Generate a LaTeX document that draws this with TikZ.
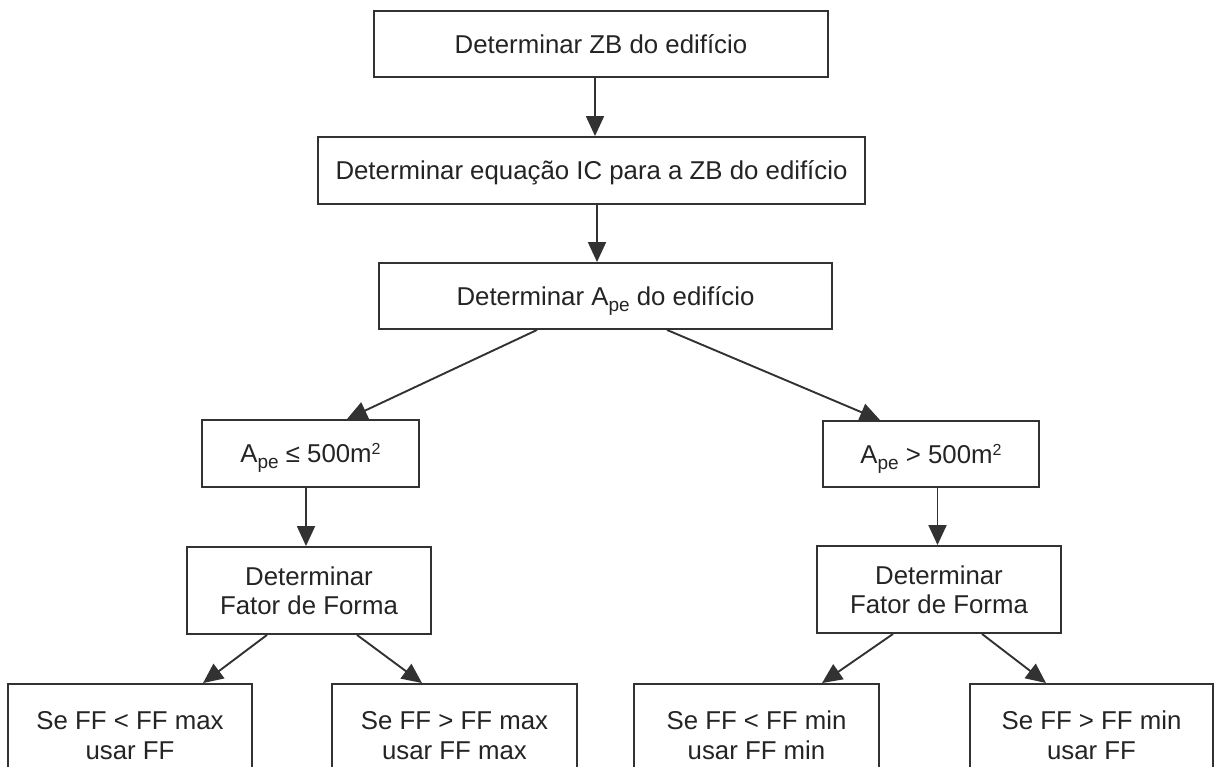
\documentclass[tikz,border=0pt]{standalone}
\usepackage{fontspec}
\setmainfont{Liberation Sans}
\usetikzlibrary{arrows.meta}
\definecolor{ink}{RGB}{36,36,36}
\definecolor{edge}{RGB}{50,50,50}
% lowered subscript and raised superscript that do not change the line box
\newcommand\lowsub[1]{\raisebox{-6pt}[0pt][0pt]{\fontsize{19}{19}\selectfont #1}}
\newcommand\highsup[1]{\raisebox{8pt}[0pt][0pt]{\fontsize{16}{16}\selectfont #1}}
\begin{document}
\begin{tikzpicture}[x=1pt,y=-1pt,
  box/.style={draw=edge, line width=1.9pt, fill=white, text=ink, inner sep=0pt,
    align=center, font=\fontsize{25.8}{29.5}\selectfont},
  oneline/.style={text height=18.5pt, text depth=0pt},
  twoline/.style={text height=48pt, text depth=0pt},
  arr/.style={draw=edge, line width=1.9pt, -{Triangle[width=18pt,length=20pt]}}]
\useasboundingbox (0,0) rectangle (1214,767);
\clip (0,0) rectangle (1214,767);

% main sequence
\node[box, oneline, minimum width=454pt, minimum height=66pt] (zb) at (601,44) {Determinar ZB do edifício};
\node[box, oneline, minimum width=547pt, minimum height=67pt] (ic) at (591.5,170.5) {Determinar equação IC para a ZB do edifício};
\node[box, oneline, minimum width=453pt, minimum height=66pt] (ape) at (605.5,296) {Determinar A\lowsub{pe} do edifício};

% area branches
\node[box, oneline, minimum width=217pt, minimum height=67pt] (small) at (310.5,453.5) {A\lowsub{pe} ≤ 500m\highsup{2}};
\node[box, oneline, minimum width=216pt, minimum height=66pt] (large) at (931,454) {A\lowsub{pe} > 500m\highsup{2}};

% shape factor
\node[box, twoline, minimum width=244pt, minimum height=87pt] (ffa) at (309,590.5) {Determinar\\Fator de Forma};
\node[box, twoline, minimum width=244pt, minimum height=87pt] (ffb) at (939,589.5) {Determinar\\Fator de Forma};

% outcomes
\node[box, twoline, minimum width=244pt, minimum height=102pt] (r1) at (130,735) {Se FF < FF max\\usar FF};
\node[box, twoline, minimum width=245pt, minimum height=102pt] (r2) at (454.5,735) {Se FF > FF max\\usar FF max};
\node[box, twoline, minimum width=245pt, minimum height=102pt] (r3) at (756.5,735) {Se FF < FF min\\usar FF min};
\node[box, twoline, minimum width=243pt, minimum height=102pt] (r4) at (1091.5,735) {Se FF > FF min\\usar FF};

% connectors
\draw[arr] ([xshift=-6pt]zb.south) -- ([xshift=-6pt]zb.south |- ic.north);
\draw[arr] ([xshift=5.5pt]ic.south) -- ([xshift=5.5pt]ic.south |- ape.north);
\draw[arr] ([xshift=-68.5pt]ape.south) -- ([xshift=36.5pt]small.north);
\draw[arr] ([xshift=61.5pt]ape.south) -- ([xshift=-51pt]large.north);
\draw[arr] ([xshift=-4.5pt]small.south) -- ([xshift=-4.5pt]small.south |- ffa.north);
\draw[arr] ([xshift=6.5pt]large.south) -- ([xshift=6.5pt]large.south |- ffb.north);
\draw[arr] ([xshift=-42pt]ffa.south) -- ([xshift=73pt]r1.north);
\draw[arr] ([xshift=48pt]ffa.south) -- ([xshift=-32.5pt]r2.north);
\draw[arr] ([xshift=-46pt]ffb.south) -- ([xshift=65.5pt]r3.north);
\draw[arr] ([xshift=43pt]ffb.south) -- ([xshift=-45.5pt]r4.north);
\end{tikzpicture}
\end{document}
